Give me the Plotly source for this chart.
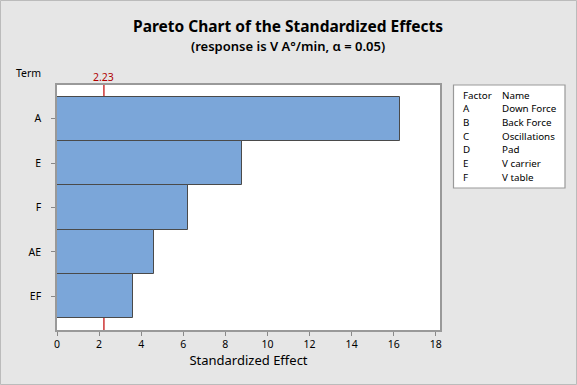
import plotly.graph_objects as go

terms = ["A", "E", "F", "AE", "EF"]
effects = [16.28, 8.80, 6.21, 4.62, 3.62]
critical = 2.23
factors = ["A", "B", "C", "D", "E", "F"]
names = ["Down Force", "Back Force", "Oscillations", "Pad", "V carrier", "V table"]
x_ticks = [0, 2, 4, 6, 8, 10, 12, 14, 16, 18]

W, H = 577, 385
L, R, T, B = 57, 440, 85, 330
FONT = "Noto Sans, Open Sans, sans-serif"

def px(x):
    return (x - L) / (R - L)

def py(y):
    return (B - y) / (B - T)

fig = go.Figure()
fig.add_trace(go.Bar(
    y=list(range(len(terms))), x=effects, orientation="h",
    marker=dict(color="#7BA6D9", line=dict(color="#4A4A4A", width=1)),
    width=1.0, hoverinfo="x+y",
))

shapes = [
    dict(type="line", xref="x", yref="paper", x0=critical, x1=critical, y0=0, y1=1,
         line=dict(color="#C00000", width=1.2), layer="below"),
    dict(type="rect", xref="paper", yref="paper", x0=px(453.5), x1=px(565), y0=py(188), y1=py(85),
         fillcolor="white", line=dict(color="#999999", width=1.2)),
    dict(type="rect", xref="paper", yref="paper", x0=px(0.5), x1=px(576.5), y0=py(384.5), y1=py(0.5),
         line=dict(color="#BBBBBB", width=1)),
]

def text(t, x, y, size, xanchor="center", color="black", weight="normal", xref="paper"):
    return dict(text=t, x=x, y=py(y), xref=xref, yref="paper", xanchor=xanchor, yanchor="middle",
                showarrow=False, font=dict(size=size, family=FONT, color=color, weight=weight))

ann = [
    text("Pareto Chart of the Standardized Effects", px(288), 26, 15.5, weight="bold"),
    text("(response is V A°/min, α = 0.05)", px(288), 46, 13, weight=600),
    text("Term", px(28), 73, 10.5),
    text(f"{critical:.2f}", critical, 77, 10.5, color="#B00000", xref="x"),
    text("Factor", px(461), 95, 9.8, xanchor="left"),
    text("Name", px(500), 95, 9.8, xanchor="left"),
]
rows_y = [109, 122, 136, 149, 163, 177]
for f, n, yy in zip(factors, names, rows_y):
    ann.append(text(f, px(461), yy, 9.8, xanchor="left"))
    ann.append(text(n, px(500), yy, 9.8, xanchor="left"))

fig.update_layout(
    width=W, height=H,
    margin=dict(l=L, r=W - R, t=T, b=H - B, pad=0, autoexpand=False),
    paper_bgcolor="#E6E6E6", plot_bgcolor="white",
    showlegend=False, bargap=0,
    font=dict(family=FONT, size=10.5, color="black"),
    shapes=shapes, annotations=ann,
    xaxis=dict(range=[0, 18.2], tickvals=x_ticks, ticks="outside", ticklen=4, tickcolor="#888888",
               showgrid=False, zeroline=False, showline=True, linecolor="#999999", linewidth=1.5, mirror=True,
               tickfont=dict(size=10.5), automargin=False,
               title=dict(text="Standardized Effect", font=dict(size=13, family=FONT), standoff=5)),
    yaxis=dict(range=[4.76, -0.76], tickvals=list(range(len(terms))), ticktext=terms,
               ticks="outside", ticklen=4, tickcolor="#888888", automargin=False,
               showgrid=False, zeroline=False, showline=True, linecolor="#999999", linewidth=1.5, mirror=True,
               tickfont=dict(size=10.5), ticklabelstandoff=8),
)

fig.write_html("out.html", config={"displayModeBar": False},
               post_script="document.body.style.margin='0';document.body.style.overflow='hidden';")
